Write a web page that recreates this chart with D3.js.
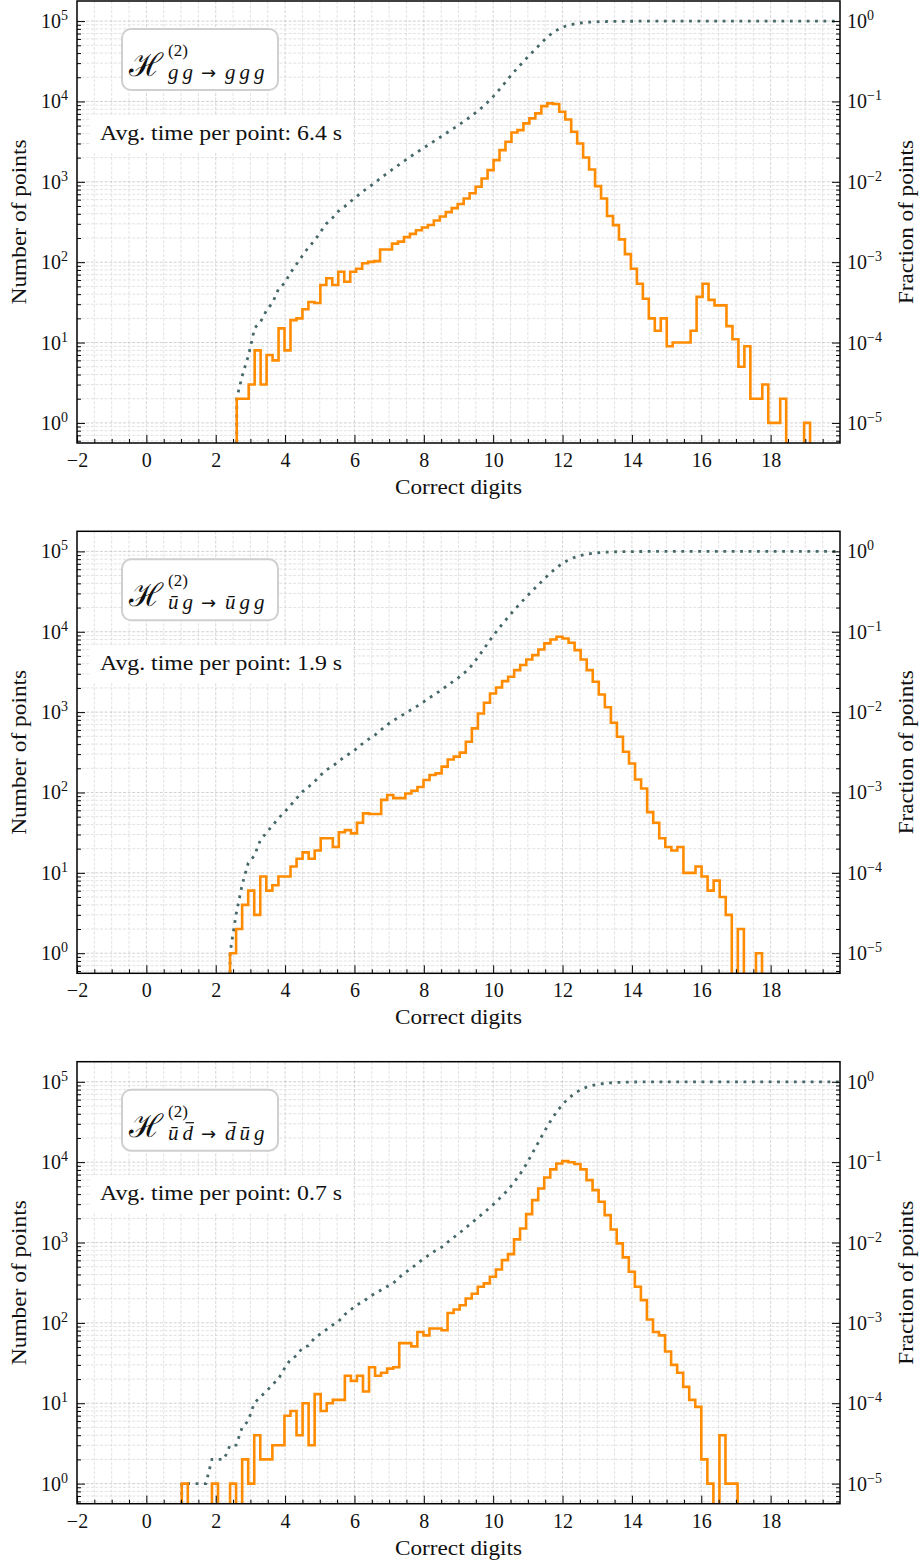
<!DOCTYPE html>
<html>
<head>
<meta charset="utf-8">
<script src="https://cdn.jsdelivr.net/npm/d3@7"></script>
<style>
  body { margin: 0; background: #fff; }
  svg text { font-family: "Liberation Serif", "DejaVu Serif", serif; fill: #111; }
</style>
</head>
<body>
<svg id="fig" width="921" height="1562"></svg>
<script>
// ---- data ----
var xTicks = [-2, 0, 2, 4, 6, 8, 10, 12, 14, 16, 18];
var leftExps = [0, 1, 2, 3, 4, 5];
var rightExps = [-5, -4, -3, -2, -1, 0];

var binStarts = [2.606, 2.413, 1.02];
var binWidths = [0.1722, 0.1743, 0.1742];

// histogram counts, panel 1 (g g -> g g g)
var counts1 = [2, 2, 3, 8, 3, 7, 6, 15, 8, 19, 20, 26, 32, 31, 52, 63, 52, 76, 57, 76,
  83, 97, 101, 103, 144, 144, 170, 180, 205, 225, 250, 270, 290, 330, 370, 420, 470, 530, 620, 720,
  870, 1100, 1400, 1860, 2480, 3150, 4100, 4400, 5330, 6150, 7100, 8750, 9460, 9300, 7450, 5970, 4200, 3000, 2010, 1425,
  885, 621, 375, 289, 192, 126, 83, 54, 35, 20, 14, 20, 9, 10, 10, 10, 14, 37, 54, 34,
  29, 29, 16, 11, 5, 9, 2, 2, 3, 1, 1, 2, 0, 0, 0, 1];

// panel 2 (ubar g -> ubar g g)
var counts2 = [1, 2, 4, 6, 3, 9, 6, 7, 9, 9, 12, 15, 18, 15, 19, 27, 27, 21, 32, 34,
  31, 42, 55, 54, 54, 81, 93, 85, 85, 97, 105, 117, 143, 165, 173, 210, 257, 279, 313, 427,
  627, 962, 1306, 1706, 2027, 2432, 2754, 3330, 3850, 4520, 5120, 6020, 7160, 8020, 8660, 8240, 7300, 5900, 4520, 3330,
  2390, 1660, 1150, 736, 493, 321, 229, 145, 112, 57, 42, 27, 21, 19, 21, 10, 10, 12, 9, 6,
  8, 5, 3, 0, 2, 0, 0, 1];

// panel 3 (ubar dbar -> dbar ubar g)
var counts3 = [1, 0, 0, 0, 0, 1, 0, 0, 1, 0, 2, 1, 4, 2, 2, 3, 3, 7, 8, 4,
  10, 3, 13, 8, 10, 11, 11, 22, 19, 22, 14, 28, 22, 24, 27, 28, 56, 56, 51, 77,
  70, 85, 85, 81, 133, 147, 166, 201, 230, 281, 310, 375, 462, 604, 718, 1093, 1497, 2258, 3373, 4710,
  6456, 8120, 9640, 10300, 9960, 9500, 8120, 5980, 4490, 3215, 2195, 1455, 975, 653, 433, 282, 192, 110, 77, 70,
  44, 30, 24, 16, 11, 9, 2, 1, 0, 4, 1, 1];

var allCounts = [counts1, counts2, counts3];
var procIn = [["g", "g"], ["\u016B", "g"], ["\u016B", "d"]];
var procOut = [["g", "g", "g"], ["\u016B", "g", "g"], ["d", "\u016B", "g"]];
var barred = [[[], []], [[], []], [[1], [0]]]; // indices of d that carry a bar
var avgTimes = ["6.4", "1.9", "0.7"];

// ---- layout ----
var svg = d3.select("#fig");
var X0 = 77, X1 = 840, PH = 442;
var tops = [1, 531.3, 1061.7];
var orange = "#ff8c00", slate = "#466868";

var x = d3.scaleLinear().domain([-2, 20]).range([X0, X1]);

allCounts.forEach(function(counts, p) {
  var top = tops[p], bottom = top + PH;
  var g = svg.append("g");

  var yL = d3.scaleLog().domain([Math.pow(10, -0.25), Math.pow(10, 5.25)]).range([bottom, top]);
  var yR = d3.scaleLog().domain([Math.pow(10, -5.25), Math.pow(10, 0.25)]).range([bottom, top]);

  var isMajor = function(v) { return Math.abs(Math.log10(v) - Math.round(Math.log10(v))) < 1e-6; };
  var yAll = yL.ticks();
  var yMinor = yAll.filter(function(v) { return !isMajor(v); });
  var yMajor = yAll.filter(isMajor);
  var rAll = yR.ticks();
  var rMinor = rAll.filter(function(v) { return !isMajor(v); });
  var rMajor = rAll.filter(isMajor);
  var xMinor = d3.range(-1.5, 20, 0.5).filter(function(v) { return v % 2 !== 0; });

  // grid
  var grid = g.append("g").attr("stroke-width", 0.7).attr("stroke-dasharray", "3,1.6");
  grid.selectAll(".vx").data(d3.range(-1.5, 20, 0.5)).join("line")
    .attr("x1", function(d) { return x(d); }).attr("x2", function(d) { return x(d); })
    .attr("y1", top).attr("y2", bottom)
    .attr("stroke", function(d) { return d % 2 === 0 ? "#c4c4c4" : "#d6d6d6"; });
  grid.selectAll(".hy").data(yAll).join("line")
    .attr("x1", X0).attr("x2", X1)
    .attr("y1", function(d) { return yL(d); }).attr("y2", function(d) { return yL(d); })
    .attr("stroke", function(d) { return isMajor(d) ? "#bdbdbd" : "#d6d6d6"; });

  // clip
  var clipId = "clip" + p;
  svg.append("clipPath").attr("id", clipId).append("rect")
    .attr("x", X0).attr("y", top).attr("width", X1 - X0).attr("height", PH);

  var start = binStarts[p], w = binWidths[p];
  var edge = function(k) { return start + k * w; };
  var below = bottom + 8;

  // histogram step outline
  var pts = [[x(edge(0)), below]];
  counts.forEach(function(c, k) {
    var py = c > 0 ? yL(c) : below;
    pts.push([x(edge(k)), py]);
    pts.push([x(edge(k + 1)), py]);
  });
  pts.push([x(edge(counts.length)), below]);

  // cumulative fraction (right axis)
  var cum = d3.cumsum(counts), total = d3.sum(counts);
  var cpts = [[x(edge(0)), below]];
  cum.forEach(function(c, k) {
    cpts.push([x(edge(k)), c > 0 ? yR(c / total) : below]);
  });
  cpts.push([x(20), yR(1)]);

  var line = d3.line();
  var plot = g.append("g").attr("clip-path", "url(#" + clipId + ")");
  plot.append("path").attr("d", line(cpts)).attr("fill", "none")
    .attr("stroke", slate).attr("stroke-width", 2.8).attr("stroke-dasharray", "2.8,5.6");
  plot.append("path").attr("d", line(pts)).attr("fill", "none")
    .attr("stroke", orange).attr("stroke-width", 2.6).attr("stroke-linejoin", "miter");

  // ticks (inward)
  var noDomain = function(s) { s.select(".domain").remove(); s.selectAll("line").attr("stroke", "#000").attr("stroke-width", 1); };
  g.append("g").attr("transform", "translate(0," + bottom + ")")
    .call(d3.axisBottom(x).tickValues(xTicks).tickSize(-8).tickFormat(d3.format("d")).tickPadding(10))
    .call(noDomain)
    .call(function(s) { s.selectAll("text").attr("font-size", 20).attr("fill", "#111"); });
  g.append("g").attr("transform", "translate(0," + bottom + ")")
    .call(d3.axisBottom(x).tickValues(xMinor).tickSize(-4).tickFormat("")).call(noDomain);
  g.append("g").attr("transform", "translate(" + X0 + ",0)")
    .call(d3.axisLeft(yL).tickValues(yMajor).tickSize(-8).tickFormat("")).call(noDomain);
  g.append("g").attr("transform", "translate(" + X0 + ",0)")
    .call(d3.axisLeft(yL).tickValues(yMinor).tickSize(-4).tickFormat("")).call(noDomain);
  g.append("g").attr("transform", "translate(" + X1 + ",0)")
    .call(d3.axisRight(yR).tickValues(rMajor).tickSize(-8).tickFormat("")).call(noDomain);
  g.append("g").attr("transform", "translate(" + X1 + ",0)")
    .call(d3.axisRight(yR).tickValues(rMinor).tickSize(-4).tickFormat("")).call(noDomain);

  // log tick labels
  leftExps.forEach(function(e) {
    var t = g.append("text").attr("x", 68).attr("y", yL(Math.pow(10, e)) + 7)
      .attr("text-anchor", "end").attr("font-size", 20);
    t.append("tspan").text("10");
    t.append("tspan").attr("dy", -8).attr("font-size", 14).text(String(e));
  });
  rightExps.forEach(function(e) {
    var t = g.append("text").attr("x", 847).attr("y", yR(Math.pow(10, e)) + 7)
      .attr("font-size", 20);
    t.append("tspan").text("10");
    t.append("tspan").attr("dy", -8).attr("font-size", 14).text(e < 0 ? "\u2212" + (-e) : String(e));
  });

  // spine
  g.append("rect").attr("x", X0).attr("y", top).attr("width", X1 - X0).attr("height", PH)
    .attr("fill", "none").attr("stroke", "#000").attr("stroke-width", 1.5);

  // axis labels
  g.append("text").attr("x", (X0 + X1) / 2).attr("y", bottom + 51).attr("text-anchor", "middle")
    .attr("font-size", 20).attr("textLength", 127).attr("lengthAdjust", "spacingAndGlyphs").text("Correct digits");
  g.append("text").attr("transform", "translate(26," + (top + PH / 2) + ") rotate(-90)")
    .attr("text-anchor", "middle").attr("font-size", 20).attr("textLength", 165)
    .attr("lengthAdjust", "spacingAndGlyphs").text("Number of points");
  g.append("text").attr("transform", "translate(913," + (top + PH / 2) + ") rotate(-90)")
    .attr("text-anchor", "middle").attr("font-size", 20).attr("textLength", 164)
    .attr("lengthAdjust", "spacingAndGlyphs").text("Fraction of points");

  // process box
  g.append("rect").attr("x", 122).attr("y", top + 28).attr("width", 156).attr("height", 61)
    .attr("rx", 9).attr("fill", "#fff").attr("stroke", "#cfcfcf").attr("stroke-width", 2);
  g.append("text").attr("x", 129).attr("y", top + 75).attr("font-size", 32)
    .attr("font-family", "DejaVu Serif").text("\u210B");
  g.append("text").attr("x", 168).attr("y", top + 55).attr("font-size", 17).text("(2)");
  var sub = g.append("text").attr("x", 168).attr("y", top + 78).attr("font-size", 21);
  var tokens = [];
  procIn[p].forEach(function(s, i) { tokens.push({ s: s, dx: i ? 4 : 0, it: true, bar: barred[p][0].indexOf(i) >= 0 }); });
  tokens.push({ s: "\u2192", dx: 8, it: false });
  procOut[p].forEach(function(s, i) { tokens.push({ s: s, dx: i ? 4 : 9, it: true, bar: barred[p][1].indexOf(i) >= 0 }); });
  tokens.forEach(function(t) {
    var ts = sub.append("tspan").attr("dx", t.dx).attr("font-style", t.it ? "italic" : "normal").text(t.s);
    if (!t.it) ts.attr("font-family", "DejaVu Sans").attr("font-size", 18);
  });
  // bars over d
  var node = sub.node(), ci = 0;
  tokens.forEach(function(t) {
    if (t.bar) {
      var b = node.getExtentOfChar(ci);
      g.append("line").attr("x1", b.x + 3).attr("x2", b.x + b.width + 1)
        .attr("y1", b.y + 2).attr("y2", b.y + 2).attr("stroke", "#111").attr("stroke-width", 1.2);
    }
    ci += t.s.length;
  });

  // avg time box
  g.append("rect").attr("x", 91).attr("y", top + 114).attr("width", 262).attr("height", 38).attr("fill", "#fff");
  g.append("text").attr("x", 100).attr("y", top + 138.5).attr("font-size", 20)
    .attr("textLength", 242).attr("lengthAdjust", "spacingAndGlyphs")
    .text("Avg. time per point: " + avgTimes[p] + " s");
});
</script>
</body>
</html>
